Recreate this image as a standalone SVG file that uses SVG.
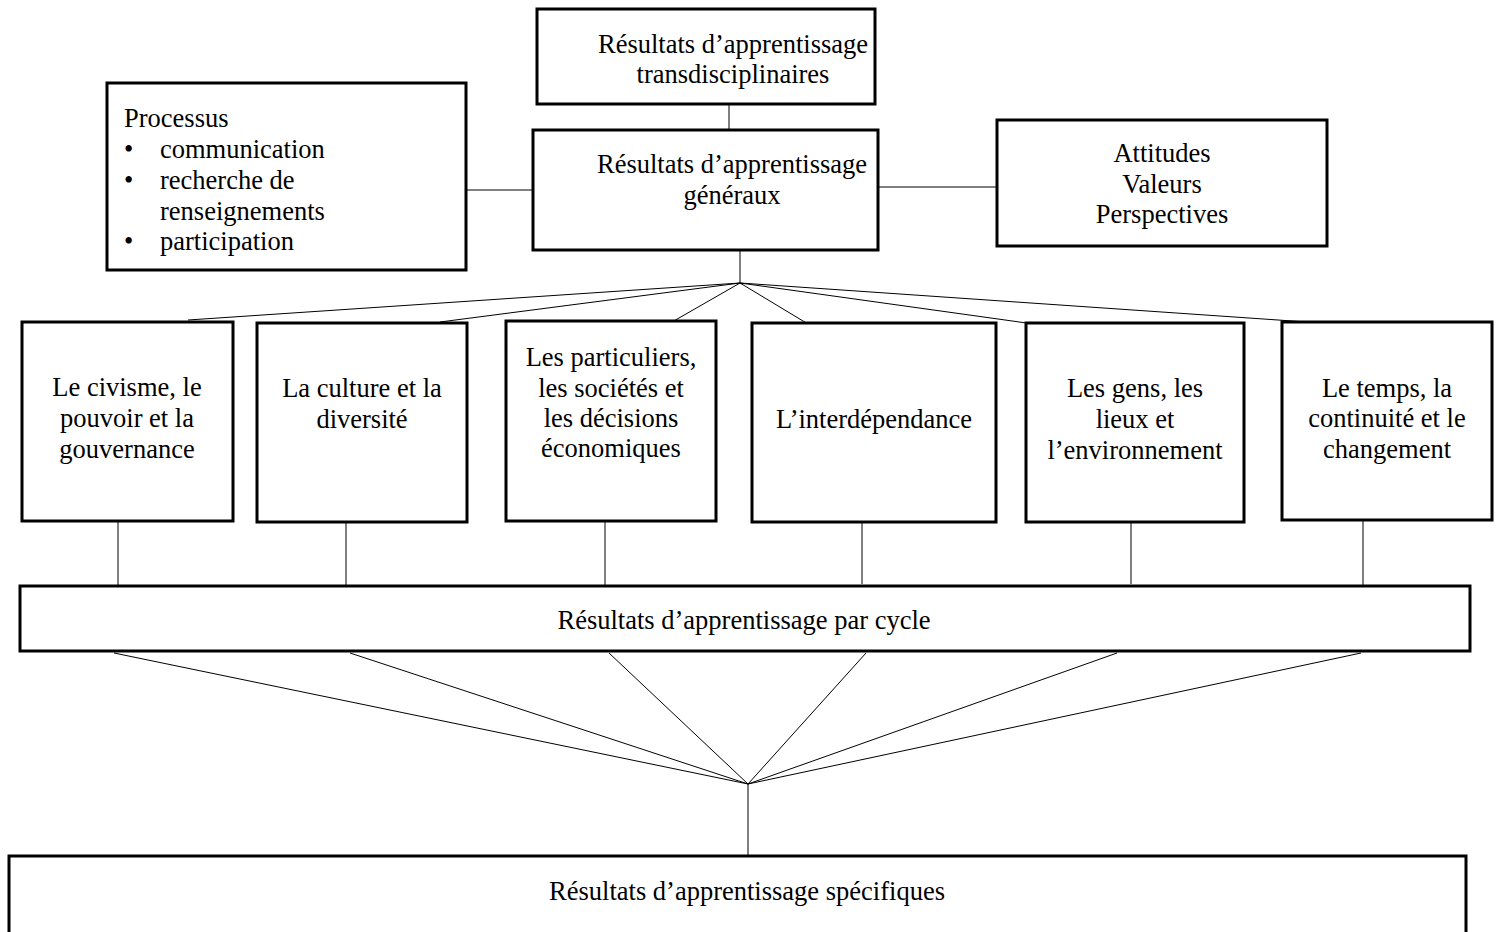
<svg xmlns="http://www.w3.org/2000/svg" width="1499" height="932" viewBox="0 0 1499 932">
<style>
.box{fill:#fff;stroke:#000;stroke-width:3}
.ln{stroke:#000;stroke-width:1;fill:none}
text{font-family:"Liberation Serif","Times New Roman",serif;font-size:26.5px;fill:#000}
.c{text-anchor:middle}
</style>
<rect width="1499" height="932" fill="#fff"/>
<g id="connectors">
<line class="ln" x1="729" y1="104" x2="729" y2="130"/>
<line class="ln" x1="466" y1="190" x2="533" y2="190"/>
<line class="ln" x1="878" y1="187" x2="997" y2="187"/>
<line class="ln" x1="740" y1="250" x2="740" y2="283"/>
<line class="ln" x1="740" y1="283" x2="188" y2="320"/>
<line class="ln" x1="740" y1="283" x2="440" y2="322"/>
<line class="ln" x1="740" y1="283" x2="672" y2="322"/>
<line class="ln" x1="740" y1="283" x2="808" y2="324"/>
<line class="ln" x1="740" y1="283" x2="1048" y2="326"/>
<line class="ln" x1="740" y1="283" x2="1307" y2="322"/>
<line class="ln" x1="118" y1="521" x2="118" y2="585"/>
<line class="ln" x1="346" y1="521" x2="346" y2="585"/>
<line class="ln" x1="605" y1="521" x2="605" y2="585"/>
<line class="ln" x1="862" y1="521" x2="862" y2="584"/>
<line class="ln" x1="1131" y1="521" x2="1131" y2="584"/>
<line class="ln" x1="1363" y1="521" x2="1363" y2="585"/>
<line class="ln" x1="114" y1="653" x2="748" y2="784"/>
<line class="ln" x1="350" y1="653" x2="748" y2="784"/>
<line class="ln" x1="609" y1="653" x2="748" y2="784"/>
<line class="ln" x1="866" y1="653" x2="748" y2="784"/>
<line class="ln" x1="1117" y1="653" x2="748" y2="784"/>
<line class="ln" x1="1361" y1="653" x2="748" y2="784"/>
<line class="ln" x1="748" y1="784" x2="748" y2="855"/>
</g>
<g id="transdisciplinaires">
<rect class="box" x="537" y="9" width="338" height="95"/>
<text class="c" x="733" y="53">Résultats d’apprentissage</text>
<text class="c" x="733" y="83">transdisciplinaires</text>
</g>
<g id="generaux">
<rect class="box" x="533" y="130" width="345" height="120"/>
<text class="c" x="732" y="173">Résultats d’apprentissage</text>
<text class="c" x="732" y="204">généraux</text>
</g>
<g id="processus">
<rect class="box" x="107" y="83" width="359" height="187"/>
<text x="124" y="127">Processus</text>
<text x="124" y="158">•</text><text x="160" y="158">communication</text>
<text x="124" y="189">•</text><text x="160" y="189">recherche de</text>
<text x="160" y="220">renseignements</text>
<text x="124" y="250">•</text><text x="160" y="250">participation</text>
</g>
<g id="attitudes">
<rect class="box" x="997" y="120" width="330" height="126"/>
<text class="c" x="1162" y="162">Attitudes</text>
<text class="c" x="1162" y="193">Valeurs</text>
<text class="c" x="1162" y="223">Perspectives</text>
</g>
<g id="civisme">
<rect class="box" x="22" y="322" width="211" height="199"/>
<text class="c" x="127" y="396">Le civisme, le</text>
<text class="c" x="127" y="427">pouvoir et la</text>
<text class="c" x="127" y="458">gouvernance</text>
</g>
<g id="culture">
<rect class="box" x="257" y="323" width="210" height="199"/>
<text class="c" x="362" y="397">La culture et la</text>
<text class="c" x="362" y="428">diversité</text>
</g>
<g id="particuliers">
<rect class="box" x="506" y="321" width="210" height="200"/>
<text class="c" x="611" y="366">Les particuliers,</text>
<text class="c" x="611" y="397">les sociétés et</text>
<text class="c" x="611" y="427">les décisions</text>
<text class="c" x="611" y="457">économiques</text>
</g>
<g id="interdependance">
<rect class="box" x="752" y="323" width="244" height="199"/>
<text class="c" x="874" y="428">L’interdépendance</text>
</g>
<g id="gens">
<rect class="box" x="1026" y="323" width="218" height="199"/>
<text class="c" x="1135" y="397">Les gens, les</text>
<text class="c" x="1135" y="428">lieux et</text>
<text class="c" x="1135" y="459">l’environnement</text>
</g>
<g id="temps">
<rect class="box" x="1282" y="322" width="210" height="198"/>
<text class="c" x="1387" y="397">Le temps, la</text>
<text class="c" x="1387" y="427">continuité et le</text>
<text class="c" x="1387" y="458">changement</text>
</g>
<g id="cycle">
<rect class="box" x="20" y="586" width="1450" height="65"/>
<text class="c" x="744" y="629">Résultats d’apprentissage par cycle</text>
</g>
<g id="specifiques">
<rect class="box" x="9" y="856" width="1457" height="90"/>
<text class="c" x="747" y="900">Résultats d’apprentissage spécifiques</text>
</g>
</svg>
